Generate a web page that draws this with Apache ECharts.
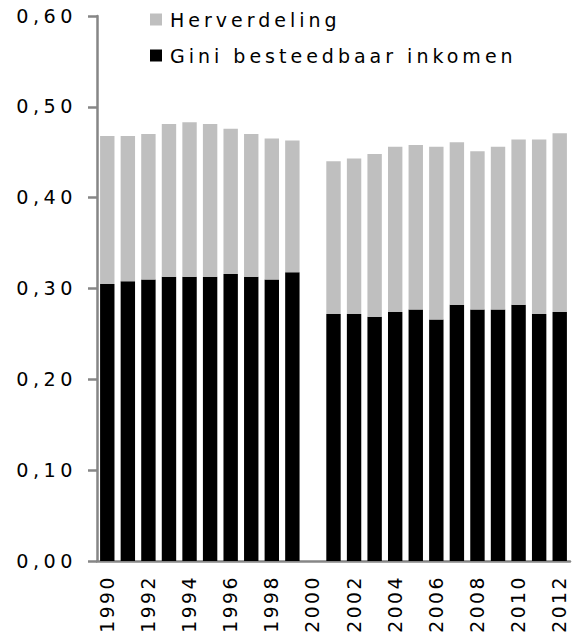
<!DOCTYPE html>
<html>
<head>
<meta charset="utf-8">
<script src="https://cdn.jsdelivr.net/npm/echarts@6/dist/echarts.min.js"></script>
<style>
  html, body { margin: 0; padding: 0; background: #fff; }
  #chart { width: 584px; height: 638px; }
  #chart text { letter-spacing: 4px; }
  #chart text[style*="19.2px"] { letter-spacing: 4.5px; }
  #chart text[style*="18.8px"] { letter-spacing: 2.5px; }
</style>
</head>
<body>
<div id="chart"></div>
<script>
// Categories (years); 2000 has no data
const years = ['1990','1991','1992','1993','1994','1995','1996','1997','1998','1999','2000',
               '2001','2002','2003','2004','2005','2006','2007','2008','2009','2010','2011','2012'];
// Gini besteedbaar inkomen (black, bottom)
const giniBesteedbaar = [0.305,0.308,0.310,0.313,0.313,0.313,0.316,0.313,0.310,0.318,null,
                         0.272,0.272,0.269,0.274,0.277,0.266,0.282,0.277,0.277,0.282,0.272,0.274];
// Herverdeling (grey, stacked on top)
const herverdeling = [0.163,0.160,0.160,0.168,0.170,0.168,0.160,0.157,0.155,0.145,null,
                      0.168,0.171,0.179,0.182,0.181,0.190,0.179,0.174,0.179,0.182,0.192,0.197];
const seriesNames = ['Gini besteedbaar inkomen', 'Herverdeling'];

const FONT = 'DejaVu Sans';
const chart = echarts.init(document.getElementById('chart'), null, { renderer: 'svg' });
chart.setOption({
  animation: false,
  backgroundColor: '#ffffff',
  grid: { left: 97, right: 14, top: 16, bottom: 77 },
  legend: [
    {
      data: [{ name: seriesNames[1], icon: 'rect' }],
      left: 150, top: 10, padding: 0, itemWidth: 12, itemHeight: 12,
      textStyle: { fontFamily: FONT, fontSize: 19, color: '#000', padding: [0,0,0,3] }
    },
    {
      data: [{ name: seriesNames[0], icon: 'rect' }],
      left: 150, top: 46, padding: 0, itemWidth: 12, itemHeight: 12,
      textStyle: { fontFamily: FONT, fontSize: 19, color: '#000', padding: [0,0,0,3] }
    }
  ],
  xAxis: {
    type: 'category',
    data: years,
    axisLine: { lineStyle: { color: '#868686', width: 2.5 } },
    axisTick: { show: false },
    axisLabel: {
      interval: 1, rotate: 90, margin: 14,
      fontFamily: FONT, fontSize: 18.8, color: '#000'
    }
  },
  yAxis: {
    type: 'value',
    min: 0, max: 0.6, interval: 0.1,
    splitLine: { show: false },
    axisLine: { show: true, lineStyle: { color: '#868686', width: 2.5 } },
    axisTick: { show: true, length: 9, lineStyle: { color: '#868686', width: 2.5 } },
    axisLabel: {
      margin: 20, fontFamily: FONT, fontSize: 19.2, color: '#000',
      formatter: v => v.toFixed(2).replace('.', ',')
    }
  },
  series: [
    {
      name: seriesNames[0], type: 'bar', stack: 'gini',
      data: giniBesteedbaar, barCategoryGap: '30%',
      itemStyle: { color: '#000000' }
    },
    {
      name: seriesNames[1], type: 'bar', stack: 'gini',
      data: herverdeling, barCategoryGap: '30%',
      itemStyle: { color: '#bfbfbf' }
    }
  ]
});
</script>
</body>
</html>
